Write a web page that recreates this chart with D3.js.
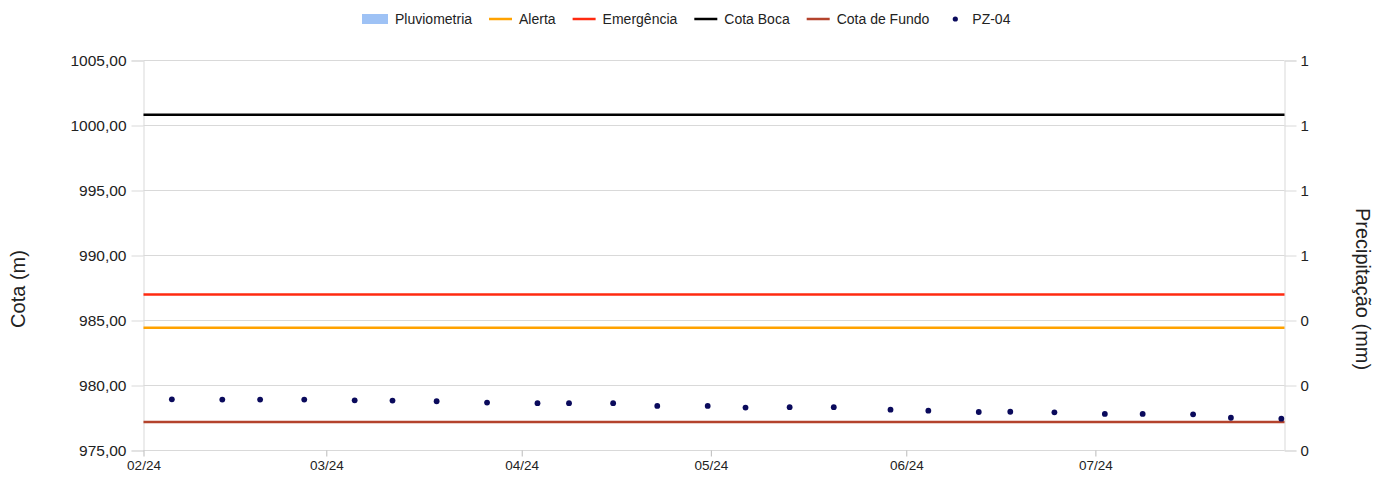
<!DOCTYPE html>
<html><head><meta charset="utf-8">
<script src="https://cdn.jsdelivr.net/npm/d3@7"></script>
<style>body{margin:0;background:#fff}text{font-family:"Liberation Sans",Arial,sans-serif}</style>
</head><body>
<svg id="chart" width="1389" height="479"></svg>
<script>
// ---- data ----
const pzDates = ["2024-02-05","2024-02-13","2024-02-19","2024-02-26","2024-03-05","2024-03-11","2024-03-18","2024-03-26","2024-04-03","2024-04-08","2024-04-15","2024-04-22","2024-04-30","2024-05-06","2024-05-13","2024-05-20","2024-05-29","2024-06-04","2024-06-12","2024-06-17","2024-06-24","2024-07-02","2024-07-08","2024-07-16","2024-07-22","2024-07-30"];
const pzValues = [978.94,978.92,978.92,978.92,978.86,978.84,978.79,978.69,978.64,978.64,978.64,978.43,978.43,978.30,978.33,978.33,978.14,978.06,977.96,977.98,977.94,977.81,977.81,977.78,977.52,977.45];
const refNames = ["Alerta","Emergência","Cota Boca","Cota de Fundo"];
const refValues = [984.45, 987.0, 1000.82, 977.2];
const pluvDates = [];
const pluvValues = [];
const dateDomain = ["2024-02-01","2024-07-31"];
const cotaTicks = [975,980,985,990,995,1000,1005];
const precTicks = [0,0.2,0.4,0.6,0.8,1.0,1.2];
const legendNames = ["Pluviometria","Alerta","Emergência","Cota Boca","Cota de Fundo","PZ-04"];

// ---- styles ----
const refColors = {"Alerta":"#ffa200","Emergência":"#ff2a10","Cota Boca":"#000000","Cota de Fundo":"#b4432c"};
const pzColor = "#0a0a5c";
const pluvColor = "#9ec2f5";
const gridColor = "#d9d9d9";

const svg = d3.select("#chart");
const L = 143.5, R = 1284.5, T = 60.5, B = 450.5;
const parse = d3.timeParse("%Y-%m-%d");

const x = d3.scaleTime().domain(dateDomain.map(parse)).range([L, R]);
const y = d3.scaleLinear().domain([975, 1005]).range([B, T]);
const y2 = d3.scaleLinear().domain([0, 1.2]).range([B, T]);

const ptLocale = d3.formatLocale({decimal:",", thousands:".", grouping:[3], currency:["R$",""]});
const fmtCota = ptLocale.format(".2f");
const fmtPrec = d3.format(".0f");

// gridlines
svg.append("g").selectAll("line").data(cotaTicks).join("line")
  .attr("x1", L).attr("x2", R).attr("y1", d => y(d)).attr("y2", d => y(d))
  .attr("stroke", gridColor).attr("stroke-width", 1);

// left axis
const gL = svg.append("g").attr("transform", `translate(${L},0)`)
  .call(d3.axisLeft(y).tickValues(cotaTicks).tickFormat(fmtCota).tickSize(12).tickPadding(5));
gL.select(".domain").attr("stroke", gridColor);
gL.selectAll(".tick line").attr("stroke", gridColor);
gL.selectAll("text").attr("font-size", 15.5).attr("fill", "#222").style("font-family", "Liberation Sans, Arial");

// right axis
const gR = svg.append("g").attr("transform", `translate(${R},0)`)
  .call(d3.axisRight(y2).tickValues(precTicks).tickFormat(fmtPrec).tickSize(12).tickPadding(4));
gR.select(".domain").attr("stroke", gridColor);
gR.selectAll(".tick line").attr("stroke", gridColor);
gR.selectAll("text").attr("font-size", 15).attr("fill", "#222").style("font-family", "Liberation Sans, Arial");

// bottom axis
const gB = svg.append("g").attr("transform", `translate(0,${B})`)
  .call(d3.axisBottom(x).ticks(d3.timeMonth.every(1)).tickFormat(d3.timeFormat("%m/%y")).tickSize(6).tickPadding(4));
gB.select(".domain").remove();
gB.selectAll(".tick line").attr("stroke", "#bbb");
gB.selectAll("text").attr("font-size", 13.5).attr("fill", "#222").style("font-family", "Liberation Sans, Arial");

// pluviometria bars (none in period)
svg.append("g").selectAll("rect").data(pluvDates.map((d,i)=>({d:parse(d), v:pluvValues[i]}))).join("rect")
  .attr("x", d => x(d.d) - 3).attr("width", 6)
  .attr("y", d => y2(d.v)).attr("height", d => B - y2(d.v)).attr("fill", pluvColor);

// reference lines
svg.append("g").selectAll("line").data(refNames.map((n,i)=>({n, v:refValues[i]}))).join("line")
  .attr("x1", L).attr("x2", R).attr("y1", d => y(d.v)).attr("y2", d => y(d.v))
  .attr("stroke", d => refColors[d.n]).attr("stroke-width", 2.5);

// PZ-04 points
svg.append("g").selectAll("circle").data(pzDates.map((d,i)=>({d:parse(d), v:pzValues[i]}))).join("circle")
  .attr("cx", d => x(d3.timeHour.offset(d.d, 12))).attr("cy", d => y(d.v)).attr("r", 2.9)
  .attr("fill", pzColor);

// axis titles
svg.append("text").attr("transform", "translate(25,289) rotate(-90)")
  .attr("text-anchor", "middle").attr("font-size", 20).attr("fill", "#222").text("Cota (m)");
svg.append("text").attr("transform", "translate(1356,289) rotate(90)")
  .attr("text-anchor", "middle").attr("font-size", 20).attr("fill", "#222").text("Precipitação (mm)");

// legend
const lg = svg.append("g");
let lx = 362;
const ly = 19;
legendNames.forEach(n => {
  const g = lg.append("g");
  if (n === "Pluviometria") {
    g.append("rect").attr("x", lx).attr("y", ly - 5).attr("width", 26).attr("height", 10).attr("fill", pluvColor);
    lx += 33;
  } else if (n === "PZ-04") {
    lx += 9;
    g.append("circle").attr("cx", lx).attr("cy", ly).attr("r", 2.6).attr("fill", pzColor);
    lx += 17;
  } else {
    g.append("line").attr("x1", lx).attr("x2", lx + 23).attr("y1", ly).attr("y2", ly)
      .attr("stroke", refColors[n]).attr("stroke-width", 2.5);
    lx += 30;
  }
  const t = g.append("text").attr("x", lx).attr("y", ly).attr("dy", "0.35em")
    .attr("font-size", 14).attr("fill", "#222").text(n);
  lx += t.node().getComputedTextLength() + 17;
});
</script>
</body></html>
